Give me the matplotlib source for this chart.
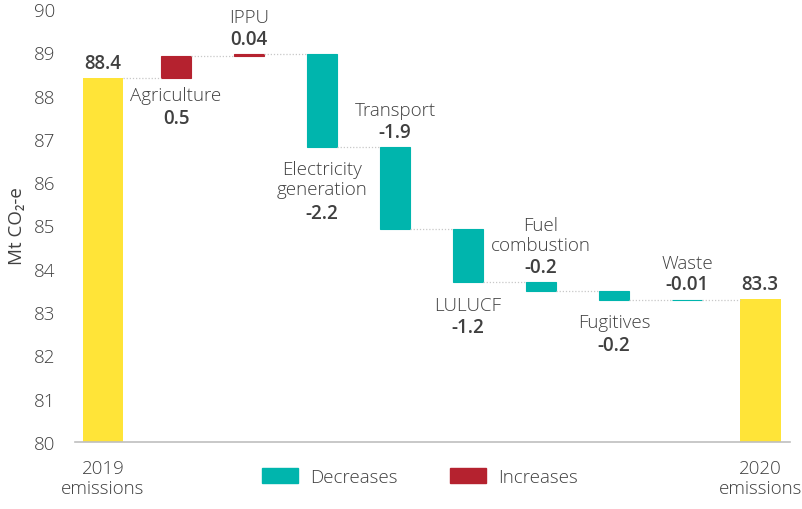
import matplotlib.pyplot as plt
from matplotlib.patches import Patch

# data
start_label = "2019\nemissions"
end_label = "2020\nemissions"
start_value = 88.4
categories = ["Agriculture", "IPPU", "Electricity\ngeneration", "Transport",
              "LULUCF", "Fuel\ncombustion", "Fugitives", "Waste"]
changes = [0.52, 0.04, -2.15, -1.88, -1.23, -0.22, -0.19, -0.01]
change_labels = ["0.5", "0.04", "-2.2", "-1.9", "-1.2", "-0.2", "-0.2", "-0.01"]
label_above = [False, True, False, True, False, True, False, True]
end_value = 83.3
yticks = list(range(80, 91))

# gap below bar for labels placed underneath (data units)
label_gap = [0.18, 0, 0.3, 0, 0.32, 0, 0.32, 0]

yellow = "#FFE438"
teal = "#00B5AD"
red = "#B5222F"
txt = "#404040"

plt.rcParams['font.family'] = ['Open Sans', 'DejaVu Sans']
plt.rcParams['font.weight'] = 'light'
fs = 13.5

fig = plt.figure(figsize=(8.02, 5.10), dpi=100)
ax = fig.add_axes([75 / 802, 1 - 443 / 510, 715 / 802, 433 / 510])

# totals
n = len(categories)
ax.bar(0, start_value - 80, bottom=80, width=0.56, color=yellow)
ax.bar(n + 1, end_value - 80, bottom=80, width=0.56, color=yellow)
ax.text(0, start_value + 0.12, f"{start_value}", ha="center", va="bottom",
        fontsize=fs, fontweight="semibold", color=txt)
ax.text(n + 1, end_value + 0.12, f"{end_value}", ha="center", va="bottom",
        fontsize=fs, fontweight="semibold", color=txt)

level = start_value
prev_right = 0 + 0.28
for i, (cat, ch, lab, above) in enumerate(zip(categories, changes, change_labels, label_above)):
    x = i + 1
    col = red if ch > 0 else teal
    ax.bar(x, ch, bottom=level, width=0.40, color=col, edgecolor=col, linewidth=0.8)
    ax.plot([prev_right, x - 0.20], [level, level], ls=(0, (1, 1.5)), color="#c8c8c8", lw=0.9)
    new = level + ch
    top = max(level, new)
    bot = min(level, new)
    nlines = cat.count("\n") + 1
    if above:
        ax.text(x, top + 0.12, lab, ha="center", va="bottom", fontsize=fs,
                fontweight="semibold", color=txt)
        ax.text(x, top + 0.64, cat, ha="center", va="bottom", fontsize=fs,
                color=txt, linespacing=1.15)
    else:
        g = label_gap[i]
        ax.text(x, bot - g, cat, ha="center", va="top", fontsize=fs,
                color=txt, linespacing=1.15)
        ax.text(x, bot - g - 0.5 * nlines, lab, ha="center", va="top",
                fontsize=fs, fontweight="semibold", color=txt)
    level = new
    prev_right = x + 0.20
ax.plot([prev_right, n + 1 - 0.28], [level, level], ls=(0, (1, 1.5)), color="#c8c8c8", lw=0.9)

ax.set_xlim(-0.384, 9.41)
ax.set_ylim(80, 90)
ax.set_yticks(yticks)
ax.set_xticks([0, n + 1])
ax.set_xticklabels([start_label, end_label], linespacing=1.15)
ax.tick_params(axis="both", length=0, labelsize=fs, colors=txt, pad=12)
ax.tick_params(axis="y", pad=14)
for s in ["top", "right", "left"]:
    ax.spines[s].set_visible(False)
ax.spines["bottom"].set_color("#bfbfbf")
ax.spines["bottom"].set_linewidth(1.2)
ax.set_ylabel("Mt CO₂-e", fontsize=13.5, color=txt, labelpad=6)

leg = fig.legend(handles=[Patch(color=teal, label="Decreases"), Patch(color=red, label="Increases")],
                 loc="center", bbox_to_anchor=(420 / 802, 1 - 478 / 510), ncol=2, frameon=False,
                 fontsize=fs, handlelength=1.9, handleheight=0.85, handletextpad=0.65,
                 columnspacing=2.8, labelcolor=txt)

fig.savefig("out.png", dpi=100)
